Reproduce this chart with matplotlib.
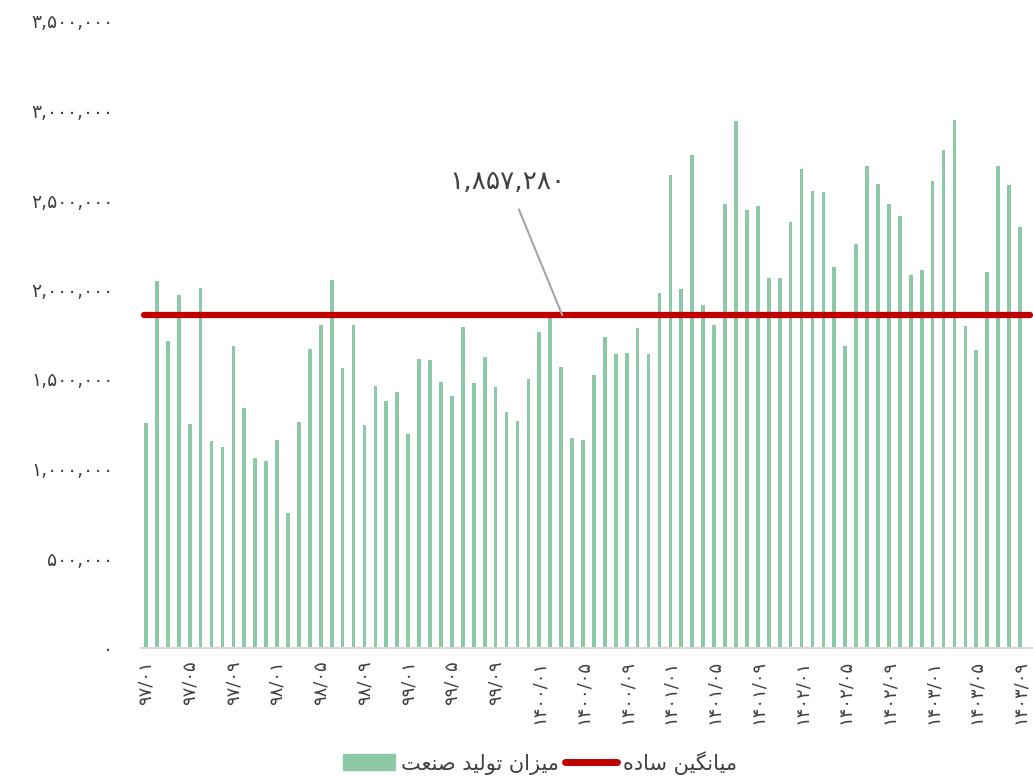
import matplotlib
matplotlib.use("Agg")
import matplotlib.pyplot as plt
from matplotlib.patches import Patch
from matplotlib.lines import Line2D

plt.rcParams['font.family'] = ['DejaVu Sans']

# ---------------- data ----------------
years = ["97", "98", "99", "1400", "1401", "1402", "1403"]
months = ["01", "02", "03", "04", "05", "06", "07", "08", "09", "10", "11", "12"]
categories = [f"{y}/{m}" for y in years for m in months][:81]   # 97/01 .. 1403/09

production = [1252, 2045, 1711, 1969, 1250, 2007, 1152, 1120, 1687, 1340, 1056, 1042, 1158, 753, 1258, 1667, 1799, 2051, 1560, 1799,
              1244, 1462, 1378, 1430, 1194, 1614, 1604, 1482, 1406, 1789, 1480, 1622, 1454, 1316, 1268, 1500, 1765, 1843, 1566, 1168,
              1158, 1524, 1733, 1642, 1644, 1785, 1640, 1979, 2642, 2005, 2752, 1911, 1801, 2478, 2942, 2442, 2464, 2065, 2067, 2376,
              2674, 2550, 2542, 2127, 1683, 2255, 2690, 2590, 2476, 2410, 2079, 2109, 2606, 2780, 2946, 1795, 1664, 2097, 2690, 2584, 2351]
production = [v * 1000 for v in production]
average = 1857280

y_ticks = [0, 500000, 1000000, 1500000, 2000000, 2500000, 3000000, 3500000]
series_label = "میزان تولید صنعت"
avg_label = "میانگین ساده"

# ---------------- helpers ----------------
PERSIAN = str.maketrans("0123456789", "۰۱۲۳۴۵۶۷۸۹")

def fa(s):
    return s.translate(PERSIAN)

FORMS = {
    'ا': ('\uFE8D', '\uFE8E', None, None),
    'ت': ('\uFE95', '\uFE96', '\uFE97', '\uFE98'),
    'د': ('\uFEA9', '\uFEAA', None, None),
    'ز': ('\uFEAF', '\uFEB0', None, None),
    'س': ('\uFEB1', '\uFEB2', '\uFEB3', '\uFEB4'),
    'ص': ('\uFEB9', '\uFEBA', '\uFEBB', '\uFEBC'),
    'ع': ('\uFEC9', '\uFECA', '\uFECB', '\uFECC'),
    'ل': ('\uFEDD', '\uFEDE', '\uFEDF', '\uFEE0'),
    'م': ('\uFEE1', '\uFEE2', '\uFEE3', '\uFEE4'),
    'ن': ('\uFEE5', '\uFEE6', '\uFEE7', '\uFEE8'),
    'ه': ('\uFEE9', '\uFEEA', '\uFEEB', '\uFEEC'),
    'و': ('\uFEED', '\uFEEE', None, None),
    'ی': ('\uFBFC', '\uFBFD', '\uFBFE', '\uFBFF'),
    'گ': ('\uFB92', '\uFB93', '\uFB94', '\uFB95'),
}

def shape(text):
    out = []
    n = len(text)
    for i, ch in enumerate(text):
        if ch not in FORMS:
            out.append(ch)
            continue
        iso, fin, ini, med = FORMS[ch]
        prev = text[i - 1] if i > 0 else None
        nxt = text[i + 1] if i < n - 1 else None
        join_prev = prev in FORMS and FORMS[prev][2] is not None
        join_next = ini is not None and nxt in FORMS
        if join_prev and join_next:
            out.append(med)
        elif join_prev:
            out.append(fin)
        elif join_next:
            out.append(ini)
        else:
            out.append(iso)
    return ''.join(reversed(out))

# ---------------- plot ----------------
W, H = 1033, 776
fig = plt.figure(figsize=(W / 100, H / 100), dpi=100)
left_px, right_px, top_px, bottom_px = 140.5, 1033, 21, 647.5
ax = fig.add_axes([left_px / W, 1 - bottom_px / H, (right_px - left_px) / W, (bottom_px - top_px) / H])

green = "#8DC9A7"
red = "#C00000"
x = list(range(len(categories)))
ax.bar(x, production, width=0.34, color=green, zorder=2)
ax.plot([x[0] - 0.15, x[-1] + 0.9], [average, average], color=red, lw=4.5,
        solid_capstyle='round', zorder=3, clip_on=False)

ax.set_xlim(-0.5, 80.5 + (1033 - 1025.5) / 10.925)
ax.set_ylim(0, 3500000)

for s in ["top", "right", "left"]:
    ax.spines[s].set_visible(False)
ax.spines["bottom"].set_color("#D9D9D9")
ax.spines["bottom"].set_linewidth(1.5)

ax.set_yticks(y_ticks)
ax.set_yticklabels([fa(f"{v:,}") for v in y_ticks], fontsize=13.5, color="#404040")
ax.tick_params(axis='y', length=0, pad=19.5)

tick_idx = x[::4]
ax.set_xticks(tick_idx)
ax.set_xticklabels([fa(categories[i]) for i in tick_idx], rotation=90, fontsize=13,
                   color="#404040", va="top", ha="center")
ax.tick_params(axis='x', length=0, pad=9)

# annotation for average
ax.annotate(fa(f"{average:,}"), xy=(38.1, average), xytext=(33.1, 2528000),
            fontsize=19, color="#404040", ha="center", va="bottom",
            arrowprops=dict(arrowstyle="-", color="#A6A6A6", lw=1.5,
                            shrinkA=9, shrinkB=0))

handles = [Patch(facecolor=green, edgecolor=green),
           Line2D([0], [0], color=red, lw=5, solid_capstyle='round')]
labels = [shape(series_label), shape(avg_label)]
fig.legend(handles, labels, loc="center", bbox_to_anchor=(540 / W, 0.017), ncol=2,
           frameon=False, fontsize=15, handlelength=2.5, handleheight=0.8,
           handletextpad=0.3, columnspacing=0.25, labelcolor="#404040")

fig.savefig("out.png", dpi=100)
